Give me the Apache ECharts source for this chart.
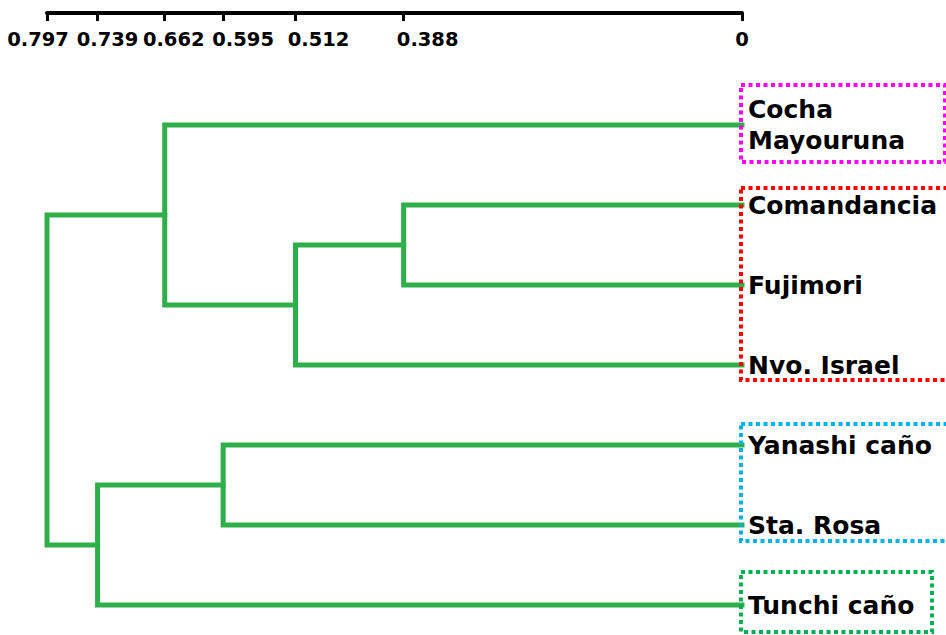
<!DOCTYPE html>
<html>
<head>
<meta charset="utf-8">
<script src="https://cdn.jsdelivr.net/npm/echarts@6/dist/echarts.min.js"></script>
<style>
html,body{margin:0;padding:0;background:#fff;}
#chart{width:946px;height:635px;}
</style>
</head>
<body>
<div id="chart"></div>
<script>
// ---- data ----
const categories = ['Cocha\nMayouruna', 'Comandancia', 'Fujimori', 'Nvo. Israel', 'Yanashi caño', 'Sta. Rosa', 'Tunchi caño'];
// merges: node ids 0..6 are leaves, 7.. are merge results (in order)
const mergeLeft = [1, 7, 0, 4, 10, 9];
const mergeRight = [2, 3, 8, 5, 6, 11];
const mergeHeight = [0.388, 0.512, 0.662, 0.595, 0.739, 0.797];
const tickValues = [0.797, 0.739, 0.662, 0.595, 0.512, 0.388, 0];
const tickLabels = ['0.797', '0.739', '0.662', '0.595', '0.512', '0.388', '0'];
const groupFirst = [0, 1, 4, 6];
const groupLast = [0, 3, 5, 6];

// ---- styles ----
const groupColors = ['#ff00ff', '#ff0000', '#00b0f0', '#00b050'];
const groupPadTop = [40, 17, 21, 33];
const groupPadBottom = [37, 15, 16, 27];
const groupWidth = [204, 212, 212, 191];
const labelShift = [-9, 10, 9, 20, 23, 24, 0];
const lineColor = '#2eaf4a';

const n = categories.length;
const pos = categories.map((_, i) => i);
const hgt = categories.map(() => 0);
const series = [];
mergeHeight.forEach((H, k) => {
  const a = mergeLeft[k], b = mergeRight[k];
  series.push({
    type: 'line',
    data: [[hgt[a], pos[a]], [H, pos[a]], [H, pos[b]], [hgt[b], pos[b]]],
    symbol: 'none',
    clip: false,
    lineStyle: { color: lineColor, width: 5, cap: 'square', join: 'miter' },
    animation: false,
    silent: true
  });
  pos.push((pos[a] + pos[b]) / 2);
  hgt.push(H);
});

const rich = {};
labelShift.forEach((s, i) => {
  rich['t' + i] = {
    fontFamily: 'DejaVu Sans', fontWeight: 'bold', fontSize: 19.5, color: '#000',
    padding: s >= 0 ? [0, 0, 0, 2 * s] : [0, -2 * s, 0, 0]
  };
});

const chart = echarts.init(document.getElementById('chart'), null, { renderer: 'svg' });
chart.setOption({
  backgroundColor: '#fff',
  animation: false,
  grid: { left: 47, right: 204, top: 13, height: 608 },
  xAxis: {
    type: 'value', position: 'top', inverse: true, min: 0, max: 0.797,
    axisLine: { show: true, onZero: false, lineStyle: { color: '#000', width: 4 } },
    axisTick: { show: true, inside: true, length: 8, customValues: tickValues, lineStyle: { color: '#000', width: 3 } },
    axisLabel: {
      show: true, inside: true, margin: 16, customValues: tickValues, hideOverlap: false,
      formatter: function (v) {
        const i = tickValues.indexOf(v);
        return '{t' + i + '|' + tickLabels[i] + '}';
      },
      rich: rich
    },
    splitLine: { show: false }
  },
  yAxis: {
    type: 'value', position: 'right', inverse: true, min: -1.4, max: 6.2,
    axisLine: { show: false }, axisTick: { show: false }, splitLine: { show: false },
    axisLabel: {
      show: true, margin: 6, align: 'left', customValues: categories.map((_, i) => i),
      formatter: function (v) { return categories[Math.round(v)]; },
      fontFamily: 'DejaVu Sans', fontWeight: 'bold', fontSize: 25, lineHeight: 31, color: '#000'
    }
  },
  series: series
});

const graphics = groupFirst.map((f, g) => {
  const p1 = chart.convertToPixel({ gridIndex: 0 }, [0, f]);
  const p2 = chart.convertToPixel({ gridIndex: 0 }, [0, groupLast[g]]);
  const x = p1[0] - 1;
  const y = p1[1] - groupPadTop[g];
  const h = p2[1] + groupPadBottom[g] - y;
  return {
    type: 'rect', silent: true,
    shape: { x: x, y: y, width: groupWidth[g], height: h },
    style: { fill: 'none', stroke: groupColors[g], lineWidth: 4, lineDash: [4, 3.5] },
    z: 10
  };
});
chart.setOption({ graphic: graphics });
</script>
</body>
</html>
